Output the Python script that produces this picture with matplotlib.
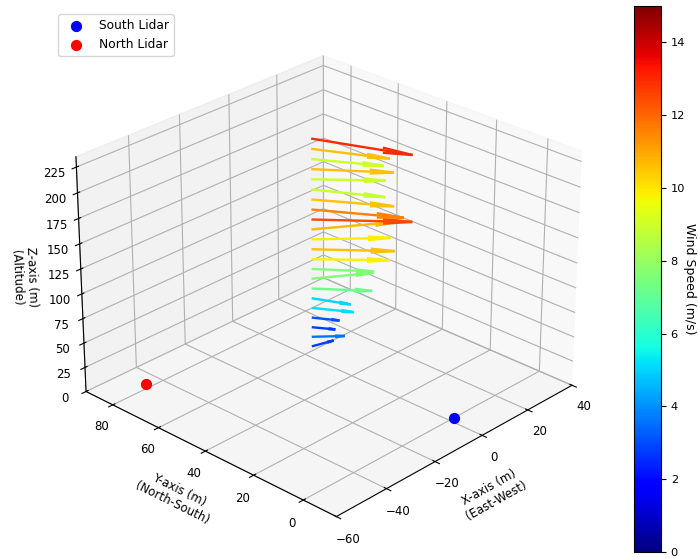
import numpy as np
import matplotlib
matplotlib.use('Agg')
import matplotlib.pyplot as plt
from matplotlib.cm import ScalarMappable
from matplotlib.colors import Normalize

# wind profile, top of the mast first
altitudes = [230, 220, 210, 200, 190, 180, 170, 160, 150, 140, 130,
             120, 110, 100, 90, 80, 70, 60, 50, 40, 30, 20]
speeds = [13.0, 10.6, 9.0, 10.6, 9.0, 8.9, 10.6, 11.6, 12.5, 10.7, 9.9,
          10.6, 9.8, 7.5, 7.6, 7.2, 5.0, 5.1, 3.1, 2.7, 3.6, 2.8]
u = [4.6, 4.2, 4.3, 5.8, 5.6, 4.3, 5.2, 5.7, 7.5, 8.7, 6.6,
     6.3, 6.0, 4.5, 6.1, 4.4, 2.0, 2.6, 1.7, 1.5, 2.8, 2.8]
v = [-11.9, -8.7, -7.6, -7.8, -6.7, -7.9, -8.5, -9.6, -9.3, -6.4, -6.7,
     -7.7, -7.1, -6.0, -4.4, -5.8, -4.6, -4.5, -3.0, -2.5, -2.8, -0.9]
mast_x = -3.5
mast_y = 53.5
south_lidar = (2, 0, 0)
north_lidar = (-45, 82, 0)

fig = plt.figure(figsize=(6.98, 5.59), dpi=100)
ax = fig.add_axes([0.071, 0.01, 0.781, 0.975], projection='3d')

norm = Normalize(vmin=0, vmax=15)
cmap = plt.cm.jet

for i in range(len(altitudes)):
    ax.quiver(mast_x, mast_y, altitudes[i], u[i], v[i], 0, length=2.5,
              color=cmap(norm(speeds[i])), linewidth=1.7)

ax.scatter(*south_lidar, color='blue', s=50, label='South Lidar', depthshade=False)
ax.scatter(*north_lidar, color='red', s=50, label='North Lidar', depthshade=False)

ax.set_xlim(-60, 40)
ax.set_ylim(-13, 92)
ax.set_zlim(0, 235)
ax.set_xticks([-60, -40, -20, 0, 20, 40])
ax.set_yticks([0, 20, 40, 60, 80])
ax.set_zticks([0, 25, 50, 75, 100, 125, 150, 175, 200, 225])
ax.tick_params(labelsize=8.5, pad=1)
ax.tick_params(axis='both', which='major', grid_linewidth=1.0, grid_color='#c0c0c0')
ax.set_xlabel('X-axis (m)\n(East-West)', fontsize=8.5, labelpad=5)
ax.set_ylabel('Y-axis (m)\n(North-South)', fontsize=8.5, labelpad=4)
ax.set_zlabel('Z-axis (m)\n(Altitude)', fontsize=8.5, labelpad=2.5)
ax.view_init(elev=27, azim=-136.5)

fig.legend(*ax.get_legend_handles_labels(), loc='upper left',
           bbox_to_anchor=(0.075, 0.985), fontsize=8.8, handletextpad=0.9)

cax = fig.add_axes([634 / 698, 1 - 552 / 559, 27 / 698, 546 / 559])
cbar = fig.colorbar(ScalarMappable(norm=norm, cmap=cmap), cax=cax)
cbar.set_ticks([0, 2, 4, 6, 8, 10, 12, 14])
cbar.ax.tick_params(labelsize=8.2)
cbar.set_label('Wind Speed (m/s)', rotation=270, labelpad=8, fontsize=9)

fig.savefig('out.png', dpi=100)
